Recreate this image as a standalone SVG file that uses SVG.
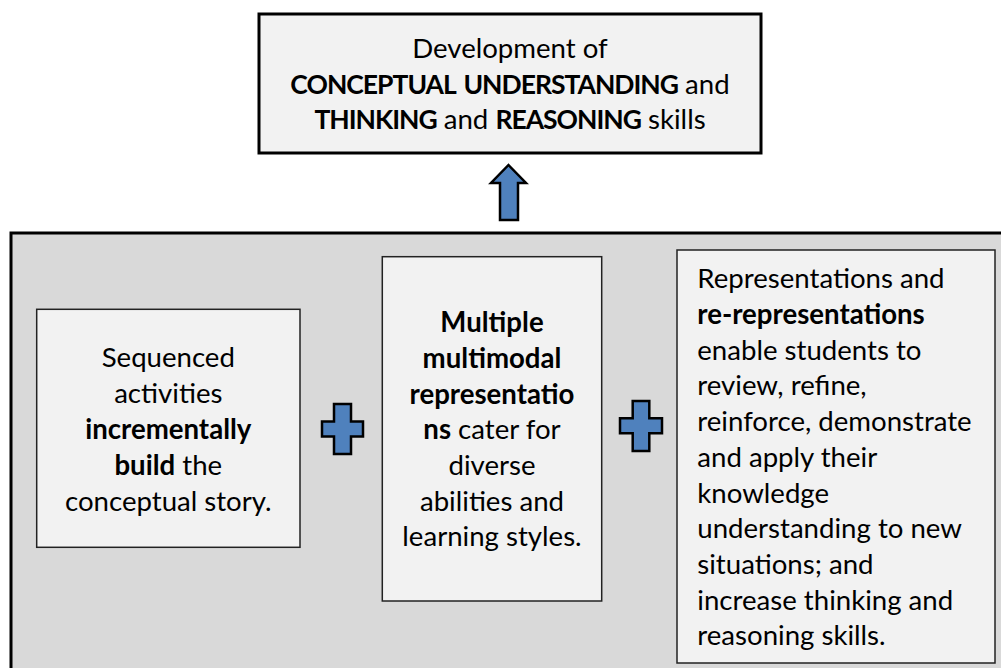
<svg xmlns="http://www.w3.org/2000/svg" width="1001" height="668" viewBox="0 0 1001 668">
<style>
text{font-family:Lato,"Open Sans","Liberation Sans",sans-serif;font-size:27.6px;fill:#000}
.b{font-weight:bold}
.k{font-weight:bold;font-size:26.5px;letter-spacing:-1px;word-spacing:3px}
.c{text-anchor:middle}
.box{fill:#f2f2f2;stroke:#222;stroke-width:1.5}
.blue{fill:#4f81bd;stroke:#000;stroke-width:2.5;stroke-linejoin:miter}
</style>
<rect width="1001" height="668" fill="#fff"/>
<g id="outer">
<rect x="11" y="233" width="1010" height="460" fill="#d9d9d9" stroke="#000" stroke-width="3"/>
</g>
<g id="top">
<rect x="259" y="14" width="502" height="139" fill="#f2f2f2" stroke="#000" stroke-width="3"/>
<text class="c" x="510" y="58">Development of</text>
<text class="c" x="510" y="94"><tspan class="k">CONCEPTUAL UNDERSTANDING</tspan> and</text>
<text class="c" x="510" y="129"><tspan class="k">THINKING</tspan> and <tspan class="k">REASONING</tspan> skills</text>
</g>
<g id="connectors">
<polygon class="blue" points="508.5,165 526,183 518,183 518,220 500,220 500,183 491,183"/>
<polygon class="blue" points="334,404 351,404 351,421.5 363,421.5 363,436.5 351,436.5 351,454 334,454 334,436.5 322,436.5 322,421.5 334,421.5"/>
<polygon class="blue" points="632.7,401 649.3,401 649.3,418.3 662,418.3 662,433.3 649.3,433.3 649.3,451 632.7,451 632.7,433.3 620,433.3 620,418.3 632.7,418.3"/>
</g>
<g id="left">
<rect class="box" x="36.7" y="309.3" width="263.3" height="238"/>
<text class="c" x="168.3" y="367">Sequenced</text>
<text class="c" x="168.3" y="403">activities</text>
<text class="c b" x="168.3" y="438.5">incrementally</text>
<text class="c" x="168.3" y="475"><tspan class="b">build</tspan> the</text>
<text class="c" x="168.3" y="510.7">conceptual story.</text>
</g>
<g id="middle">
<rect class="box" x="382.3" y="256.7" width="219.4" height="344.3"/>
<text class="c b" x="492" y="331.7">Multiple</text>
<text class="c b" x="492" y="368">multimodal</text>
<text class="c b" x="492" y="403.5">representatio</text>
<text class="c" x="492" y="439"><tspan class="b">ns</tspan> cater for</text>
<text class="c" x="492" y="475">diverse</text>
<text class="c" x="492" y="510.7">abilities and</text>
<text class="c" x="492" y="546">learning styles.</text>
</g>
<g id="right">
<rect class="box" x="677" y="250" width="318" height="413"/>
<text x="697.3" y="288.3">Representations and</text>
<text class="b" x="697.3" y="324">re-representations</text>
<text x="697.3" y="359.7">enable students to</text>
<text x="697.3" y="395.4">review, refine,</text>
<text x="697.3" y="431.1">reinforce, demonstrate</text>
<text x="697.3" y="466.8">and apply their</text>
<text x="697.3" y="502.5">knowledge</text>
<text x="697.3" y="538.2">understanding to new</text>
<text x="697.3" y="573.9">situations; and</text>
<text x="697.3" y="609.6">increase thinking and</text>
<text x="697.3" y="645.3">reasoning skills.</text>
</g>
</svg>
